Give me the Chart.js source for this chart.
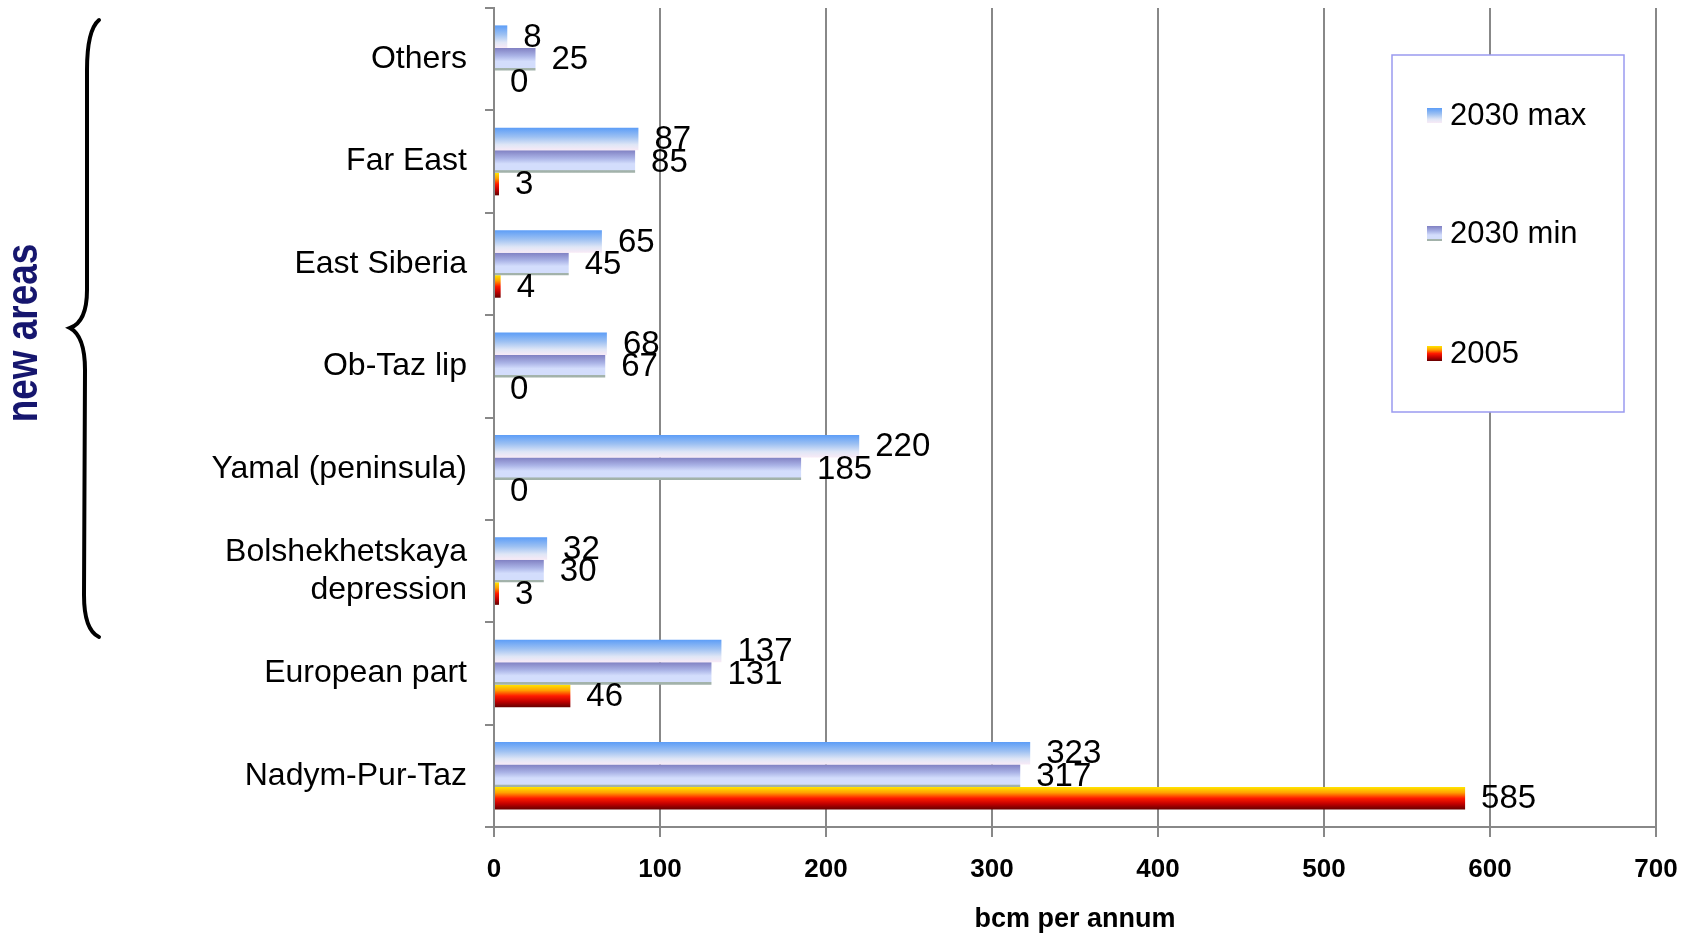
<!DOCTYPE html>
<html>
<head>
<meta charset="utf-8">
<script src="https://cdn.jsdelivr.net/npm/chart.js@4.4.1/dist/chart.umd.min.js"></script>
<style>
  html, body { margin: 0; padding: 0; background: #fff; }
</style>
</head>
<body>
<canvas id="chart" width="1684" height="934"></canvas>
<script>
// data
const categories = ['Others', 'Far East', 'East Siberia', 'Ob-Taz lip', 'Yamal (peninsula)',
  ['Bolshekhetskaya', 'depression'], 'European part', 'Nadym-Pur-Taz'];
const max2030 = [8, 87, 65, 68, 220, 32, 137, 323];
const min2030 = [25, 85, 45, 67, 185, 30, 131, 317];
const actual2005 = [0, 3, 4, 0, 0, 3, 46, 585];
const seriesNames = ['2030 max', '2030 min', '2005'];
const xTicks = [0, 100, 200, 300, 400, 500, 600, 700];
const bracketText = 'new areas';

// gradient stops (styles)
const maxStops = [[0, '#5c9df7'], [0.4, '#9cc0f2'], [0.75, '#dfe6f6'], [1, '#f8eaf6']];
const minStops = [[0, '#8080c2'], [0.35, '#aab3e6'], [0.6, '#d3ddfc'], [0.88, '#d3ddfc'], [0.9, '#a4b4ac'], [1, '#a0b0a8']];
const oldStops = [[0, '#ffe600'], [0.25, '#ffa000'], [0.5, '#ff1a00'], [0.75, '#c00000'], [1, '#640000']];

const FONT = '"Liberation Sans", Arial, sans-serif';
const CAT_PCT = 0.66;

function barGradient(stops) {
  return (c) => {
    const chart = c.chart;
    const ys = chart.scales.y;
    if (c.type !== 'data' || !ys) return stops[0][1];
    const step = Math.abs(ys.getPixelForValue(1) - ys.getPixelForValue(0));
    const thick = step * CAT_PCT / 3;
    const top = ys.getPixelForValue(c.dataIndex) - step * CAT_PCT / 2 + c.datasetIndex * thick;
    if (!isFinite(top) || !isFinite(thick) || thick <= 0) return stops[0][1];
    const g = chart.ctx.createLinearGradient(0, top, 0, top + thick);
    stops.forEach(([o, col]) => g.addColorStop(o, col));
    return g;
  };
}

const extras = {
  id: 'extras',
  afterDatasetsDraw(chart) {
    const ctx = chart.ctx;
    ctx.save();
    ctx.font = '33px ' + FONT;
    ctx.fillStyle = '#000';
    ctx.textAlign = 'left';
    ctx.textBaseline = 'middle';
    chart.data.datasets.forEach((ds, i) => {
      chart.getDatasetMeta(i).data.forEach((bar, j) => {
        ctx.fillText(String(ds.data[j]), bar.x + 16, bar.y + 1);
      });
    });
    ctx.restore();
  },
  afterDraw(chart) {
    const ctx = chart.ctx;
    const allStops = [maxStops, minStops, oldStops];
    ctx.save();
    // legend box
    ctx.fillStyle = '#fff';
    ctx.fillRect(1392, 55, 232, 357);
    ctx.strokeStyle = '#9a9af0';
    ctx.lineWidth = 1.5;
    ctx.strokeRect(1392, 55, 232, 357);
    ctx.font = '31px ' + FONT;
    ctx.textBaseline = 'middle';
    const ys = [115, 233, 353];
    chart.data.datasets.forEach((ds, i) => {
      const y = ys[i];
      const g = ctx.createLinearGradient(0, y - 7, 0, y + 8);
      allStops[i].forEach(([o, col]) => g.addColorStop(o, col));
      ctx.fillStyle = g;
      ctx.fillRect(1427, y - 7, 15, 15);
      ctx.fillStyle = '#000';
      ctx.fillText(ds.label, 1450, y + 1);
    });
    // curly brace
    ctx.strokeStyle = '#000';
    ctx.lineWidth = 4;
    ctx.lineCap = 'round';
    ctx.beginPath();
    ctx.moveTo(99, 20);
    ctx.quadraticCurveTo(87, 30, 87, 70);
    ctx.lineTo(87, 290);
    ctx.quadraticCurveTo(87, 322, 70, 328);
    ctx.quadraticCurveTo(85, 336, 85, 370);
    ctx.lineTo(84, 595);
    ctx.quadraticCurveTo(84, 630, 99, 637);
    ctx.stroke();
    // rotated caption
    ctx.translate(37, 333);
    ctx.rotate(-Math.PI / 2);
    ctx.scale(0.82, 1);
    ctx.font = 'bold 45px ' + FONT;
    ctx.fillStyle = '#16166e';
    ctx.textAlign = 'center';
    ctx.textBaseline = 'alphabetic';
    ctx.fillText(bracketText, 0, 0);
    ctx.restore();
  }
};

const ctx = document.getElementById('chart').getContext('2d');
new Chart(ctx, {
  type: 'bar',
  data: {
    labels: categories,
    datasets: [
      { label: seriesNames[0], data: max2030, backgroundColor: barGradient(maxStops) },
      { label: seriesNames[1], data: min2030, backgroundColor: barGradient(minStops) },
      { label: seriesNames[2], data: actual2005, backgroundColor: barGradient(oldStops) }
    ]
  },
  options: {
    indexAxis: 'y',
    responsive: false,
    devicePixelRatio: 1,
    animation: false,
    categoryPercentage: CAT_PCT,
    barPercentage: 1,
    layout: { padding: { top: 8, right: 28, left: 0, bottom: 0 } },
    plugins: {
      legend: { display: false },
      tooltip: { enabled: false }
    },
    scales: {
      x: {
        min: xTicks[0],
        max: xTicks[xTicks.length - 1],
        afterFit: (s) => { s.height = 107; s.paddingLeft = 0; s.paddingRight = 0; },
        ticks: {
          stepSize: xTicks[1] - xTicks[0],
          color: '#000',
          font: { family: FONT, size: 26, weight: 'bold' },
          padding: 17,
          maxRotation: 0
        },
        grid: { color: '#888', lineWidth: 2, tickLength: 10 },
        border: { color: '#888', width: 2 },
        title: {
          display: true,
          text: 'bcm per annum',
          color: '#000',
          font: { family: FONT, size: 27, weight: 'bold', lineHeight: 1 },
          padding: { top: 0, bottom: 1 }
        }
      },
      y: {
        afterFit: (s) => { s.width = 494; s.paddingTop = 0; s.paddingBottom = 0; },
        ticks: {
          color: '#000',
          font: { family: FONT, size: 32 },
          padding: 18
        },
        grid: { drawOnChartArea: false, color: '#888', lineWidth: 2, tickLength: 9 },
        border: { color: '#888', width: 2 }
      }
    }
  },
  plugins: [extras]
});
</script>
</body>
</html>
